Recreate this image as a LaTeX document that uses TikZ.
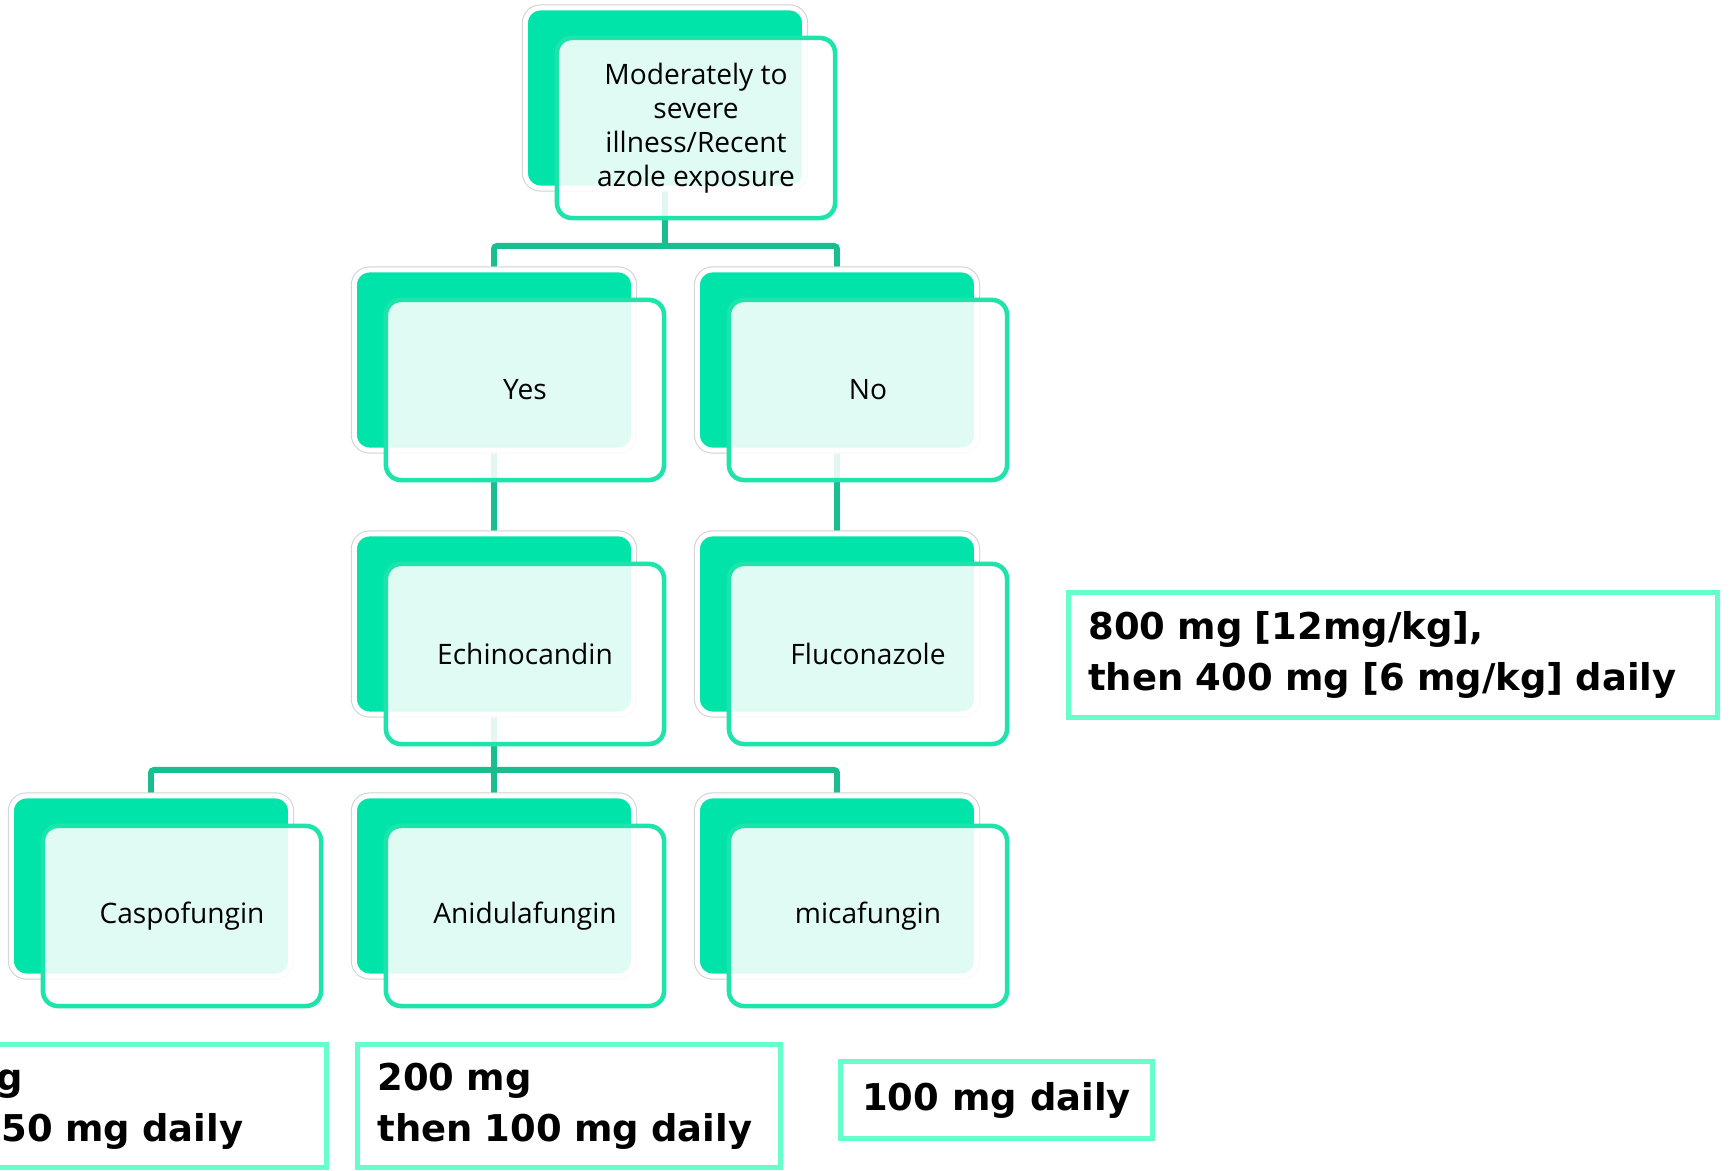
\documentclass[tikz,border=0pt]{standalone}
\usepackage{fontspec}
\setmainfont{Open Sans}
\newfontfamily\dosefont{DejaVu Sans}
\usetikzlibrary{backgrounds}

\definecolor{leaf}{RGB}{0,228,170}
\definecolor{leafline}{RGB}{30,228,172}
\definecolor{linkgreen}{RGB}{24,190,144}
\definecolor{aqua}{RGB}{102,255,204}

\tikzset{
  backcard/.style={rectangle, rounded corners=0.15cm, fill=leaf, draw=white, line width=1.42pt,
    preaction={draw=black!18, line width=2pt}, minimum width=2.79cm, minimum height=1.80cm, inner sep=0pt},
  card/.style={rectangle, rounded corners=0.15cm, draw=leafline, line width=1.3pt, fill=white,
    fill opacity=0.88, text opacity=1, minimum width=2.78cm, minimum height=1.80cm, inner sep=0pt,
    align=center, font=\fontsize{8}{9.7}\selectfont},
  dosebox/.style={rectangle, draw=aqua, line width=1.42pt, inner xsep=0.2cm, inner ysep=0pt,
    align=left, font=\dosefont\bfseries\fontsize{10.5}{14.5}\selectfont},
  link/.style={draw=linkgreen, line width=1.7pt, rounded corners=0.03cm}
}

\begin{document}
\begin{tikzpicture}[x=0.01cm, y=-0.01cm]
  \useasboundingbox (0,0) rectangle (1729,1171);
  \clip (0,0) rectangle (1729,1171);

  % cards: green block behind, outlined card in front
  \foreach \n/\x/\y/\t in {top/696/128/{Moderately to\\severe\\illness/Recent\\azole exposure},
      yes/525/390/Yes, no/868/390/No,
      echino/525/654/Echinocandin, fluco/868/654/Fluconazole,
      caspo/182/916/Caspofungin, anidula/525/916/Anidulafungin, mica/868/916/micafungin} {
    \node[backcard] (\n-bk) at (\x-31,\y-30) {};
    \node[card] (\n) at (\x,\y) {\t};
  }

  % doses
  \node[dosebox, text width=6.09cm, minimum height=1.25cm] (fluco-dose) at (1393,655)
    {800 mg [12mg/kg],\\then 400 mg [6 mg/kg] daily};
  \node[dosebox, text width=4.12cm, minimum height=1.23cm] (caspo-dose) at (100,1106)
    {70 mg\\then 50 mg daily};
  \node[dosebox, text width=3.83cm, minimum height=1.23cm] (anidula-dose) at (569,1106)
    {200 mg\\then 100 mg daily};
  \node[dosebox, minimum width=3.12cm, minimum height=0.77cm] (mica-dose) at (996.5,1100)
    {100 mg daily};

  \coordinate (fork1) at (665,246);
  \coordinate (fork2) at (494,770);

  \begin{scope}[on background layer]
    \fill[white] (0,0) rectangle (1729,1171);
    \draw[link] (top-bk) -- (fork1);
    \draw[link] (yes-bk) |- (fork1) -| (no-bk);
    \draw[link] (yes-bk) -- (echino-bk);
    \draw[link] (no-bk) -- (fluco-bk);
    \draw[link] (echino-bk) -- (fork2);
    \draw[link] (caspo-bk) |- (fork2) -| (mica-bk);
    \draw[link] (fork2) -- (anidula-bk);
  \end{scope}
\end{tikzpicture}
\end{document}
